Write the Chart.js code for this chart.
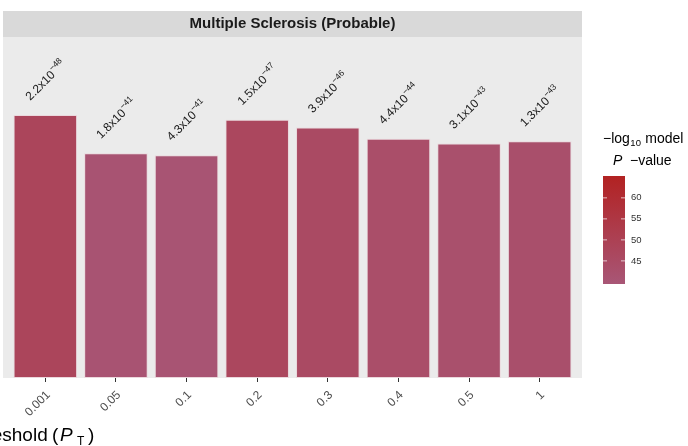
<!DOCTYPE html>
<html><head><meta charset="utf-8">
<script src="https://cdn.jsdelivr.net/npm/chart.js@4.4.1/dist/chart.umd.min.js"></script>
<style>html,body{margin:0;padding:0;background:#fff;overflow:hidden}canvas{display:block}</style>
</head><body>
<canvas id="c" width="688" height="446"></canvas>
<script>
// ---- data ----
const thresholds = ['0.001', '0.05', '0.1', '0.2', '0.3', '0.4', '0.5', '1'];
const negLogP    = [47.66, 40.74, 40.37, 46.82, 45.41, 43.36, 42.51, 42.89];
const pMantissa  = ['2.2', '1.8', '4.3', '1.5', '3.9', '4.4', '3.1', '1.3'];
const pExponent  = ['48', '41', '41', '47', '46', '44', '43', '43'];
const legendTicks = [45, 50, 55, 60];
const colorMin = 39.5, colorMax = 65.2;
const yMax = 61.8;
const panelTitle = 'Multiple Sclerosis (Probable)';

const lowRGB = [168, 86, 118], highRGB = [178, 34, 34];
function colorFor(v, a) {
  const t = Math.max(0, Math.min(1, (v - colorMin) / (colorMax - colorMin)));
  const c = lowRGB.map((l, i) => Math.round(l + (highRGB[i] - l) * t));
  return `rgba(${c[0]},${c[1]},${c[2]},${a === undefined ? 1 : a})`;
}
const FONT = '"Liberation Sans", Arial, Helvetica, sans-serif';
const PANEL_L = 3, PANEL_R = 582;

const decorPlugin = {
  id: 'decor',
  beforeDraw(chart) {
    const {ctx, chartArea: ca} = chart;
    ctx.save();
    ctx.fillStyle = '#EBEBEB';
    ctx.fillRect(PANEL_L, ca.top, PANEL_R - PANEL_L, ca.bottom - ca.top);
    ctx.fillStyle = '#D9D9D9';
    ctx.fillRect(PANEL_L, 11, PANEL_R - PANEL_L, ca.top - 11);
    ctx.fillStyle = '#1A1A1A';
    ctx.font = 'bold 15px ' + FONT;
    ctx.textAlign = 'center';
    ctx.textBaseline = 'middle';
    ctx.fillText(panelTitle, (PANEL_L + PANEL_R) / 2, 24);
    ctx.restore();
  },
  afterDatasetsDraw(chart) {
    const {ctx} = chart;
    const meta = chart.getDatasetMeta(0);
    ctx.save();
    ctx.fillStyle = '#1A1A1A';
    meta.data.forEach((el, i) => {
      ctx.save();
      ctx.translate(el.x - 15, el.y - 14);
      ctx.rotate(-Math.PI / 4);
      ctx.textAlign = 'left';
      ctx.textBaseline = 'alphabetic';
      ctx.font = '12px ' + FONT;
      const base = pMantissa[i] + 'x10';
      ctx.fillText(base, 0, 0);
      const w = ctx.measureText(base).width;
      ctx.font = '8.5px ' + FONT;
      ctx.fillText('\u2212' + pExponent[i], w + 0.5, -5.5);
      ctx.restore();
    });
    ctx.restore();
  },
  afterDraw(chart) {
    const {ctx} = chart;
    ctx.save();
    // x axis title (partly outside)
    ctx.fillStyle = '#000';
    ctx.textBaseline = 'alphabetic';
    ctx.font = '19px ' + FONT;
    ctx.textAlign = 'right';
    ctx.fillText('P\u2212value threshold ', 53, 441);
    ctx.textAlign = 'left';
    ctx.fillText('(', 52, 441);
    ctx.font = 'italic 19px ' + FONT;
    ctx.fillText('P', 60, 441);
    ctx.font = '12px ' + FONT;
    ctx.fillText('T', 77, 445);
    ctx.font = '19px ' + FONT;
    ctx.fillText(')', 88, 441);

    // legend title
    ctx.fillStyle = '#000';
    ctx.font = '14px ' + FONT;
    ctx.textBaseline = 'middle';
    ctx.fillText('\u2212log', 603, 139);
    let w = ctx.measureText('\u2212log').width;
    ctx.font = '9.5px ' + FONT;
    ctx.fillText('10', 603 + w + 0.5, 143);
    let w2 = ctx.measureText('10').width;
    ctx.font = '14px ' + FONT;
    ctx.fillText(' model', 603 + w + w2 + 1, 139);
    ctx.font = 'italic 14px ' + FONT;
    ctx.fillText('P', 613, 161);
    ctx.font = '14px ' + FONT;
    ctx.fillText('\u2212value', 630, 161);

    // colorbar
    const bx = 603, bw = 22, by = 176, bh = 108;
    const g = ctx.createLinearGradient(0, by, 0, by + bh);
    g.addColorStop(0, colorFor(colorMax));
    g.addColorStop(1, colorFor(colorMin));
    ctx.fillStyle = g;
    ctx.fillRect(bx, by, bw, bh);
    ctx.strokeStyle = 'rgba(255,255,255,0.7)';
    ctx.lineWidth = 1;
    ctx.font = '9.5px ' + FONT;
    ctx.fillStyle = '#333';
    ctx.textAlign = 'left';
    legendTicks.forEach(v => {
      const y = by + bh - (v - colorMin) / (colorMax - colorMin) * bh;
      ctx.beginPath();
      ctx.moveTo(bx, y); ctx.lineTo(bx + 4, y);
      ctx.moveTo(bx + bw - 4, y); ctx.lineTo(bx + bw, y);
      ctx.stroke();
      ctx.fillText(String(v), 631, y);
    });
    ctx.restore();
  }
};

new Chart(document.getElementById('c'), {
  type: 'bar',
  data: {
    labels: thresholds,
    datasets: [{
      data: negLogP,
      backgroundColor: negLogP.map(v => colorFor(v)),
      borderColor: 'rgba(235,200,210,0.55)',
      borderWidth: 1,
      borderSkipped: false,
      barPercentage: 0.9,
      categoryPercentage: 1.0
    }]
  },
  options: {
    responsive: false,
    animation: false,
    devicePixelRatio: 1,
    layout: {padding: {left: 10, right: 113, top: 37, bottom: 0}},
    plugins: {legend: {display: false}, tooltip: {enabled: false}},
    scales: {
      x: {
        offset: true,
        grid: {display: true, offset: false, drawOnChartArea: false, drawTicks: true, tickLength: 4, color: '#333', lineWidth: 1},
        border: {display: false},
        ticks: {minRotation: 45, maxRotation: 45, color: '#4D4D4D', font: {family: FONT, size: 12}, padding: 6, labelOffset: 3},
        afterFit(axis) { axis.height = 68; }
      },
      y: {display: false, min: 0, max: yMax}
    }
  },
  plugins: [decorPlugin]
});
</script>
</body></html>
